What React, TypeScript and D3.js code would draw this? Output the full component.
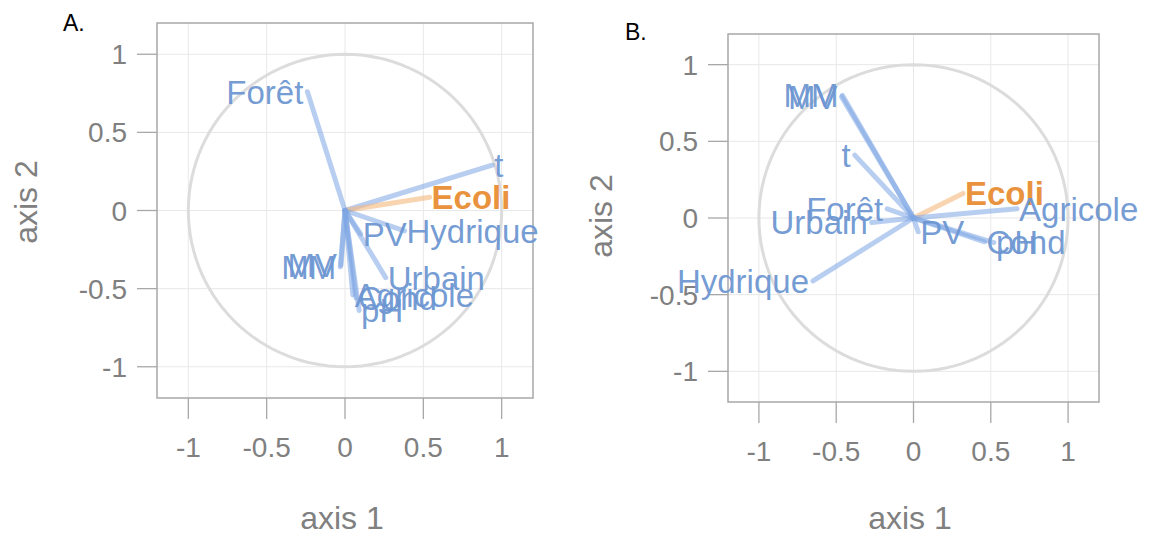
import * as d3 from "d3";

const variables = ["Forêt", "t", "Ecoli", "Hydrique", "PV", "Urbain", "Agricole", "Cond", "pH", "MM", "MV"];

// panel A coordinates (axis 1, axis 2)
const axis1A = [-0.24, 0.94, 0.54, 0.38, 0.1, 0.26, 0.05, 0.07, 0.09, -0.03, -0.025];
const axis2A = [0.76, 0.29, 0.085, -0.13, -0.15, -0.43, -0.54, -0.56, -0.64, -0.36, -0.35];

// panel B coordinates
const axis1B = [-0.17, -0.38, 0.32, -0.65, 0.03, -0.27, 0.67, 0.46, 0.52, -0.46, -0.465];
const axis2B = [0.06, 0.41, 0.16, -0.41, -0.09, -0.03, 0.06, -0.155, -0.16, 0.8, 0.79];

const tickValues = [-1, -0.5, 0, 0.5, 1];
const tickLabels = ["-1", "-0.5", "0", "0.5", "1"];

const FONT = "'Liberation Sans', Arial, sans-serif";
const BLUE = "#6d96d2";
const ORANGE = "#e88c32";
const GREY_TEXT = "#808080";

type PanelProps = {
  letter: string;
  letterX: number;
  letterY: number;
  left: number;
  right: number;
  top: number;
  bottom: number;
  xs: number[];
  ys: number[];
  yTitleX: number;
  yTitleY: number;
  xTitleX: number;
};

const Panel = ({ letter, letterX, letterY, left, right, top, bottom, xs, ys, yTitleX, yTitleY, xTitleX }: PanelProps) => {
  const x = d3.scaleLinear().domain([-1.2, 1.2]).range([left, right]);
  const y = d3.scaleLinear().domain([-1.2, 1.2]).range([bottom, top]);
  const circle = d3.range(0, 361, 3).map((a) => [Math.cos((a * Math.PI) / 180), Math.sin((a * Math.PI) / 180)]);
  const circlePath = d3.line().x((d) => x(d[0])).y((d) => y(d[1]))(circle as [number, number][]);

  return (
    <g>
      <text x={letterX} y={letterY} fontFamily={FONT} fontSize={23} fill="#000">
        {letter}
      </text>
      {/* grid */}
      {tickValues.map((t) => (
        <g key={"g" + t}>
          <line x1={x(t)} x2={x(t)} y1={top} y2={bottom} stroke="#e8e8e8" strokeWidth={1} />
          <line x1={left} x2={right} y1={y(t)} y2={y(t)} stroke="#e8e8e8" strokeWidth={1} />
        </g>
      ))}
      <rect x={left} y={top} width={right - left} height={bottom - top} fill="none" stroke="#a8a8a8" strokeWidth={1.5} />
      {/* ticks */}
      {tickValues.map((t, i) => (
        <g key={"t" + t}>
          <line x1={left - 20} x2={left} y1={y(t)} y2={y(t)} stroke="#a8a8a8" strokeWidth={1.3} />
          <text x={left - 30} y={y(t)} dy="0.36em" textAnchor="end" fontFamily={FONT} fontSize={28} fill={GREY_TEXT}>
            {tickLabels[i]}
          </text>
          <line x1={x(t)} x2={x(t)} y1={bottom} y2={bottom + 21} stroke="#a8a8a8" strokeWidth={1.3} />
          <text x={x(t)} y={bottom + 49} dy="0.36em" textAnchor="middle" fontFamily={FONT} fontSize={28} fill={GREY_TEXT}>
            {tickLabels[i]}
          </text>
        </g>
      ))}
      <text
        transform={`translate(${yTitleX},${yTitleY}) rotate(-90)`}
        dy="0.36em"
        textAnchor="middle"
        fontFamily={FONT}
        fontSize={32}
        fill={GREY_TEXT}
      >
        axis 2
      </text>
      <text x={xTitleX} y={529} textAnchor="middle" fontFamily={FONT} fontSize={32} fill={GREY_TEXT}>
        axis 1
      </text>
      {/* correlation circle */}
      <path d={circlePath || ""} fill="none" stroke="#dcdcdc" strokeWidth={3} />
      {/* arrows */}
      {variables.map((v, i) => (
        <line
          key={"l" + v}
          x1={x(0)}
          y1={y(0)}
          x2={x(xs[i])}
          y2={y(ys[i])}
          stroke={v === "Ecoli" ? "#f3b87c" : "#7ea6e3"}
          strokeOpacity={v === "Ecoli" ? 0.6 : 0.55}
          strokeWidth={5}
          strokeLinecap="round"
        />
      ))}
      {variables.map((v, i) => {
        const right = xs[i] >= 0;
        return (
          <text
            key={"t" + v}
            x={x(xs[i]) + (right ? 2 : -4)}
            y={y(ys[i])}
            dy="0.36em"
            textAnchor={right ? "start" : "end"}
            fontFamily={FONT}
            fontSize={33}
            fontWeight={v === "Ecoli" ? "bold" : "normal"}
            fill={v === "Ecoli" ? ORANGE : BLUE}
            fillOpacity={0.95}
          >
            {v}
          </text>
        );
      })}
    </g>
  );
};

export default function App() {
  return (
    <div style={{ position: "absolute", left: 0, top: 0, background: "#fff" }}>
      <svg width={1154} height={548} style={{ display: "block" }}>
        <rect width={1154} height={548} fill="#fff" />
        <Panel
          letter="A."
          letterX={63}
          letterY={31}
          left={157}
          right={533}
          top={23}
          bottom={398}
          xs={axis1A}
          ys={axis2A}
          yTitleX={25}
          yTitleY={202}
          xTitleX={342}
        />
        <Panel
          letter="B."
          letterX={625}
          letterY={40}
          left={728}
          right={1099}
          top={34}
          bottom={402}
          xs={axis1B}
          ys={axis2B}
          yTitleX={600}
          yTitleY={216}
          xTitleX={910}
        />
      </svg>
    </div>
  );
}
